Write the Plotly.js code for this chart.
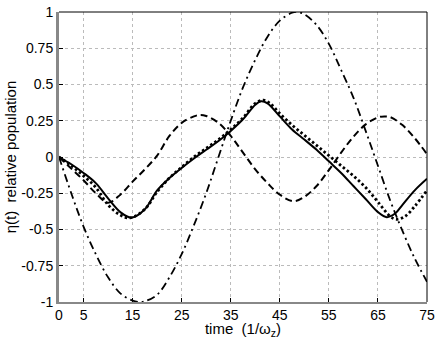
<!DOCTYPE html>
<html>
<head>
<meta charset="utf-8">
<script src="https://cdn.plot.ly/plotly-3.0.1.min.js"></script>
<style>
  html, body { margin: 0; padding: 0; background: #fff; }
  #chart { width: 439px; height: 339px; }
</style>
</head>
<body>
<div id="chart"></div>
<script>
// solid curve
const tSolid = [0, 2.5, 5, 7.5, 10, 12.5, 14.8, 17.5, 20, 22.5, 25, 27.5, 30, 32.5, 35, 37.5, 40, 41.2, 42.5, 45, 47.5, 50, 52.5, 55, 57.5, 60, 62.5, 65, 66.8, 68.5, 70, 72.5, 75];
const ySolid = [0, -0.05, -0.11, -0.18, -0.285, -0.38, -0.418, -0.36, -0.23, -0.145, -0.075, -0.01, 0.05, 0.11, 0.18, 0.26, 0.36, 0.385, 0.37, 0.28, 0.19, 0.12, 0.05, -0.03, -0.11, -0.2, -0.29, -0.38, -0.415, -0.39, -0.33, -0.23, -0.15];

// dotted curve
const tDot = [0, 2.5, 5, 7.5, 10, 12.5, 14.5, 17.5, 20, 22.5, 25, 27.5, 30, 32.5, 35, 37.5, 40, 41.7, 43, 45, 47.5, 50, 52.5, 55, 57.5, 60, 62.5, 65, 67.5, 68.8, 70.5, 72.5, 75];
const yDot = [0, -0.06, -0.13, -0.21, -0.33, -0.4, -0.42, -0.36, -0.24, -0.145, -0.07, 0, 0.06, 0.12, 0.19, 0.27, 0.37, 0.392, 0.37, 0.3, 0.22, 0.15, 0.08, 0.01, -0.06, -0.13, -0.21, -0.31, -0.41, -0.43, -0.41, -0.34, -0.23];

// dashed curve
const tDash = [0, 2.5, 5, 7.5, 10, 12.5, 15, 17.5, 20, 22.5, 25, 27.5, 28.7, 30, 32.5, 35, 37.5, 40, 42.5, 45, 47.8, 50, 52.5, 55, 57.5, 60, 62.5, 65, 66.3, 67.5, 70, 72.5, 75];
const yDash = [0, -0.08, -0.16, -0.25, -0.315, -0.26, -0.17, -0.085, 0.01, 0.145, 0.235, 0.28, 0.29, 0.283, 0.235, 0.145, 0.03, -0.085, -0.18, -0.26, -0.305, -0.275, -0.2, -0.09, 0.03, 0.14, 0.225, 0.273, 0.28, 0.275, 0.22, 0.13, 0.02];

// dash-dot curve
const tDashDot = [0, 2.5, 5, 7.5, 10, 12.5, 15, 16.5, 17.5, 20, 22.5, 25, 27.5, 30, 32.5, 35, 37.5, 40, 42.5, 45, 47.5, 48.5, 50, 52.5, 55, 57.5, 60, 62.5, 65, 67.5, 70, 72.5, 75];
const yDashDot = [0, -0.25, -0.48, -0.67, -0.83, -0.94, -0.99, -1.0, -0.995, -0.95, -0.83, -0.67, -0.47, -0.25, 0, 0.25, 0.48, 0.67, 0.83, 0.94, 0.995, 1.0, 0.985, 0.91, 0.78, 0.6, 0.41, 0.18, -0.06, -0.3, -0.51, -0.7, -0.86];

const xTicks = [0, 5, 15, 25, 35, 45, 55, 65, 75];
const yTicks = [1, 0.75, 0.5, 0.25, 0, -0.25, -0.5, -0.75, -1];
const yTickText = ["1", "0.75", "0.5", "0.25", "0", "-0.25", "-0.5", "-0.75", "-1"];

const font = "Liberation Sans, Arial, Helvetica, sans-serif";

const traces = [
  {x: tDashDot, y: yDashDot, mode: "lines", line: {color: "#000", width: 1.8, dash: "8px,4px,2px,4px", shape: "spline"}},
  {x: tDash, y: yDash, mode: "lines", line: {color: "#000", width: 2, dash: "7px,4px", shape: "spline"}},
  {x: tDot, y: yDot, mode: "lines", line: {color: "#000", width: 2.8, dash: "2.5px,2.5px", shape: "spline"}},
  {x: tSolid, y: ySolid, mode: "lines", line: {color: "#000", width: 2, shape: "spline"}}
];

const layout = {
  width: 439, height: 339,
  margin: {l: 59, r: 12, t: 12, b: 37},
  showlegend: false,
  paper_bgcolor: "#fff", plot_bgcolor: "#fff",
  font: {family: font, size: 14, color: "#000"},
  xaxis: {
    range: [0, 75], tickvals: xTicks, ticks: "inside", ticklen: 4, tickcolor: "#000",
    showgrid: true, gridcolor: "#bbb", griddash: "dot", gridwidth: 1,
    zeroline: false, showline: true, linecolor: "#888", linewidth: 1.5,
    tickfont: {family: font, size: 14},
    title: {text: "time  (1/ω<sub>z</sub>)", font: {family: font, size: 15}, standoff: 0}
  },
  yaxis: {
    range: [-1, 1], tickvals: yTicks, ticktext: yTickText, ticks: "inside", ticklen: 4, tickcolor: "#000",
    showgrid: true, gridcolor: "#bbb", griddash: "dot", gridwidth: 1,
    zeroline: false, showline: true, linecolor: "#888", linewidth: 3,
    tickfont: {family: font, size: 14},
    title: {text: "η(t)  relative population", font: {family: font, size: 15}, standoff: 2}
  },
  shapes: [
    {type: "line", xref: "paper", yref: "paper", x0: 0, x1: 1, y0: 1, y1: 1, line: {color: "#000", width: 1}},
    {type: "line", xref: "paper", yref: "paper", x0: 1, x1: 1, y0: 0, y1: 1, line: {color: "#000", width: 1}}
  ]
};

Plotly.newPlot("chart", traces, layout, {displayModeBar: false, staticPlot: true});
</script>
</body>
</html>
